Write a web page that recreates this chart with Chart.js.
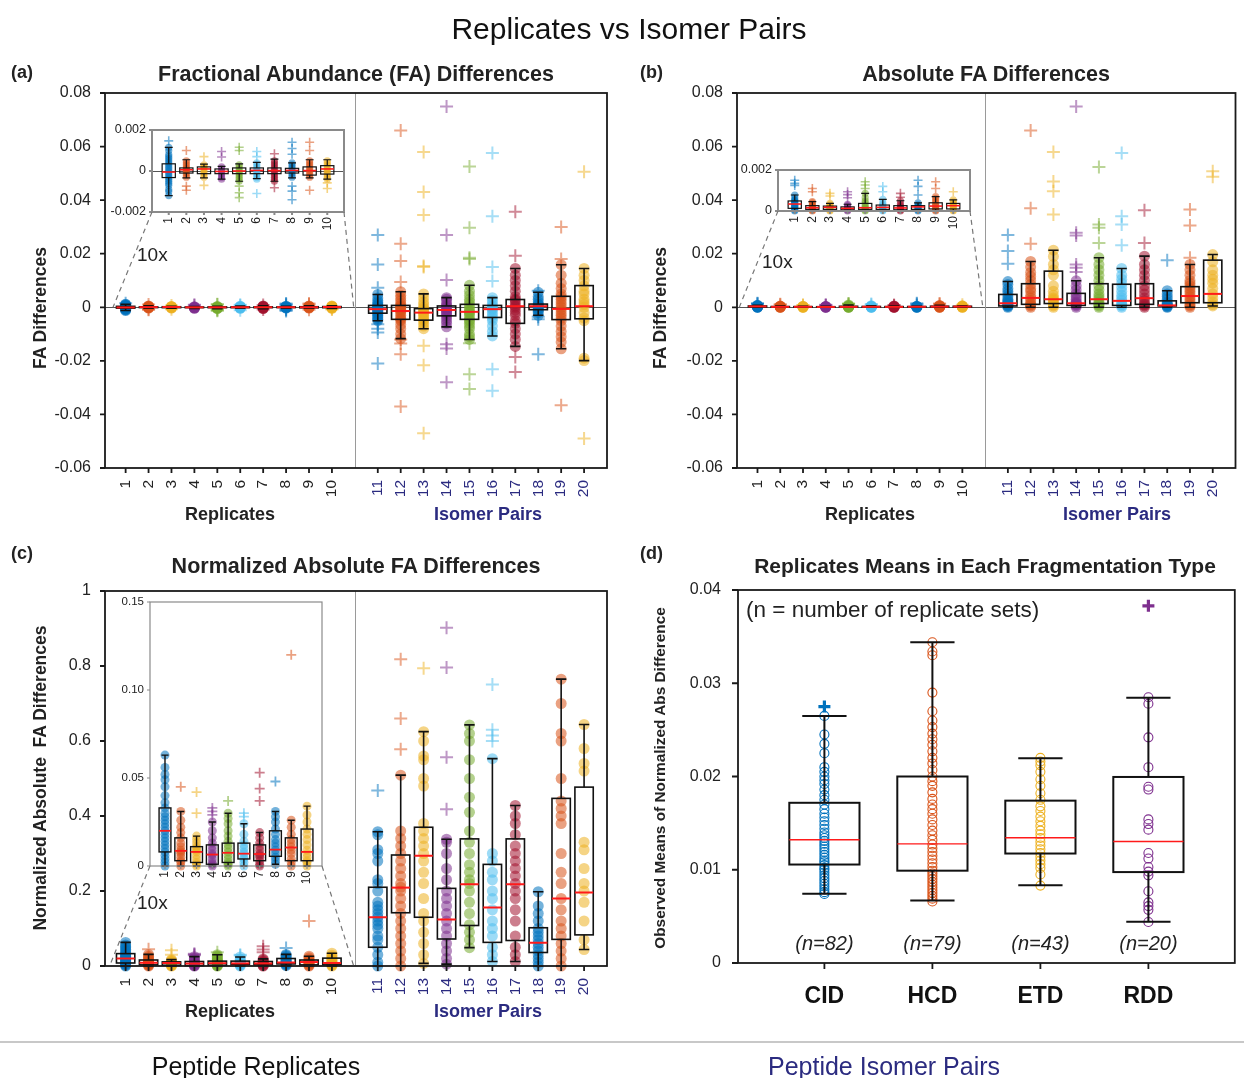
<!DOCTYPE html>
<html>
<head>
<meta charset="utf-8">
<script src="https://cdn.jsdelivr.net/npm/chart.js@4.4.1/dist/chart.umd.min.js"></script>
<style>
  html, body { margin: 0; padding: 0; background: #fff; }
  #root { position: relative; width: 1244px; height: 1078px; overflow: hidden; background: #fff;
          font-family: 'Liberation Sans', Arial, sans-serif; color: #222; }
  #root canvas { position: absolute; left: 0; top: 0; }
  .t { position: absolute; white-space: nowrap; }
</style>
</head>
<body>
<div id="root"></div>
<script>
// ---- data -------------------------------------------------------------
const REP_POS = [1, 2, 3, 4, 5, 6, 7, 8, 9, 10];
const ISO_POS = [12, 13, 14, 15, 16, 17, 18, 19, 20, 21];
const REP_LABELS = ['1', '2', '3', '4', '5', '6', '7', '8', '9', '10'];
const ISO_LABELS = ['11', '12', '13', '14', '15', '16', '17', '18', '19', '20'];
const PALETTE = ['#0072BD', '#D95319', '#EDB120', '#7E2F8E', '#77AC30', '#4DBEEE', '#A2142F'];

// (a) FA differences — replicates (also the inset)
const A_REP_Q1  = [-0.00032, -0.0001, -0.00013, -0.00013, -0.00013, -0.00013, -0.00013, -0.0001, -0.0002, -0.00015];
const A_REP_MED = [-0.00005, 0.00006, 0.0001, -0.00002, 0, 0.00003, 0.00002, 0.00003, 0.00002, 0.0001];
const A_REP_Q3  = [0.00035, 0.00015, 0.0002, 0.0001, 0.00015, 0.00015, 0.00015, 0.00013, 0.0002, 0.00026];
const A_REP_LO  = [-0.0012, -0.00034, -0.00034, -0.0004, -0.0005, -0.00037, -0.0005, -0.00034, -0.00034, -0.0004];
const A_REP_HI  = [0.00115, 0.00055, 0.00034, 0.00023, 0.00035, 0.00042, 0.00058, 0.0004, 0.00055, 0.00055];
const A_REP_PTS = [
  [-0.0012, -0.001, -0.0009, -0.0007, -0.0006, -0.0005, -0.0004, -0.0003, -0.0002, -0.0001, 0, 0.0001, 0.0002, 0.0003, 0.0004, 0.0005, 0.0006, 0.0007, 0.0008, 0.001, 0.00115],
  [-0.0003, -0.0002, -0.0001, 0, 0.0001, 0.0001, 0.0002, 0.0003, 0.0004, 0.0005],
  [-0.0003, -0.0002, -0.0001, 0, 0.0001, 0.0002, 0.0002, 0.0003],
  [-0.0004, -0.0003, -0.0002, -0.0001, 0, 0.0001, 0.0002],
  [-0.0005, -0.0004, -0.0003, -0.0002, -0.0001, 0, 0.0001, 0.0002, 0.0003],
  [-0.0004, -0.0003, -0.0002, -0.0001, 0, 0.0001, 0.0002, 0.0003, 0.0004],
  [-0.0005, -0.0004, -0.0003, -0.0002, -0.0001, 0, 0.0001, 0.0002, 0.0003, 0.0004, 0.0005],
  [-0.0003, -0.0002, -0.0001, 0, 0.0001, 0.0002, 0.0003, 0.0004],
  [-0.0003, -0.0002, -0.0001, 0, 0.0001, 0.0002, 0.0003, 0.0004, 0.0005],
  [-0.0004, -0.0003, -0.0002, -0.0001, 0, 0.0001, 0.0002, 0.0003, 0.0004, 0.0005]
];
const A_REP_OUT = [
  [0.00147], [0.001, -0.00074, -0.00094], [0.0007, -0.0007], [0.00095, 0.00068],
  [0.00116, 0.001, -0.00074, -0.00106, -0.0013], [0.00095, 0.0007, -0.0011], [0.00084, -0.00082],
  [0.0014, 0.0011, 0.00082, -0.00074, -0.00098, -0.0014], [0.0014, 0.001, -0.00094], [-0.00058, -0.00085]
];
// (a) FA differences — isomer pairs
const A_ISO_Q1  = [-0.0022, -0.0045, -0.0048, -0.0032, -0.0045, -0.0038, -0.006, -0.0009, -0.0046, -0.0043];
const A_ISO_MED = [-0.0007, -0.0014, -0.002, -0.001, -0.0017, -0.0007, 0.0004, 0.0004, -0.0006, 0.0004];
const A_ISO_Q3  = [0.0007, 0.0007, -0.0005, 0.0005, 0.0011, 0.0007, 0.0029, 0.0012, 0.0041, 0.0081];
const A_ISO_LO  = [-0.005, -0.0117, -0.008, -0.0073, -0.012, -0.0107, -0.0146, -0.003, -0.0155, -0.0199];
const A_ISO_HI  = [0.0048, 0.0058, 0.005, 0.0036, 0.0082, 0.0036, 0.0145, 0.0056, 0.0159, 0.0145];
const A_ISO_PTS = [
  [-0.005, -0.0045, -0.004, -0.0035, -0.003, -0.0025, -0.002, -0.0015, -0.0012, -0.001, -0.0007, -0.0004, -0.0002, 0, 0.0002, 0.0005, 0.0008, 0.0012, 0.0018, 0.0025, 0.0035, 0.0048],
  [-0.0117, -0.01, -0.008, -0.0065, -0.005, -0.0045, -0.004, -0.003, -0.002, -0.0015, -0.001, -0.0005, 0, 0.0003, 0.0007, 0.0015, 0.0025, 0.0035, 0.0045, 0.0058],
  [-0.008, -0.007, -0.006, -0.005, -0.0045, -0.004, -0.003, -0.0025, -0.002, -0.0015, -0.001, -0.0005, 0, 0.001, 0.002, 0.0035, 0.005],
  [-0.0073, -0.006, -0.005, -0.004, -0.0032, -0.0025, -0.002, -0.0015, -0.001, -0.0005, 0, 0.0005, 0.001, 0.002, 0.003, 0.0036],
  [-0.012, -0.011, -0.01, -0.008, -0.007, -0.006, -0.005, -0.0045, -0.0035, -0.0025, -0.002, -0.0015, -0.001, 0, 0.001, 0.002, 0.003, 0.0045, 0.006, 0.0082],
  [-0.0107, -0.009, -0.007, -0.005, -0.004, -0.003, -0.002, -0.001, -0.0005, 0, 0.0005, 0.0015, 0.0025, 0.0036],
  [-0.0146, -0.012, -0.01, -0.008, -0.006, -0.005, -0.003, -0.002, -0.001, 0, 0.0005, 0.0015, 0.0025, 0.003, 0.004, 0.006, 0.008, 0.01, 0.012, 0.0145],
  [-0.003, -0.002, -0.0015, -0.001, -0.0005, 0, 0.0003, 0.0006, 0.001, 0.0012, 0.002, 0.003, 0.004, 0.0056],
  [-0.0155, -0.013, -0.011, -0.009, -0.007, -0.005, -0.004, -0.003, -0.002, -0.001, 0, 0.001, 0.002, 0.003, 0.004, 0.005, 0.007, 0.009, 0.012, 0.0159],
  [-0.0199, -0.019, -0.005, -0.004, -0.002, 0, 0.001, 0.002, 0.003, 0.005, 0.006, 0.008, 0.01, 0.012, 0.0145]
];
const A_ISO_OUT = [
  [0.027, 0.016, 0.0073, -0.0063, -0.008, -0.0094, -0.021],
  [0.066, 0.0237, 0.0173, 0.0094, -0.012, -0.0135, -0.0175, -0.037],
  [0.058, 0.043, 0.0345, 0.0154, 0.015, -0.0144, -0.0216, -0.047],
  [0.075, 0.027, 0.0102, -0.0138, -0.0154, -0.028],
  [0.0526, 0.0297, 0.0185, 0.018, -0.0134, -0.025, -0.0305],
  [0.0576, 0.034, 0.015, 0.0098, -0.0231, -0.0312],
  [0.0357, 0.0192, -0.0186, -0.0242],
  [0.0062, -0.0035, -0.0045, -0.0175],
  [0.03, 0.018, -0.0366],
  [0.0506, -0.049]
];

// (b) absolute FA differences
const B_REP_Q1  = [0.00013, 0.00008, 0.00008, 0.00006, 0.00008, 0.00008, 0.00006, 0.00008, 0.0001, 0.0001];
const B_REP_MED = [0.00034, 0.00016, 0.00018, 0.00013, 0.00016, 0.00018, 0.00015, 0.0002, 0.00024, 0.00026];
const B_REP_Q3  = [0.00049, 0.00026, 0.00024, 0.0002, 0.00037, 0.00029, 0.00026, 0.00026, 0.0004, 0.00037];
const B_REP_LO  = [0, 0, 0, 0, 0, 0, 0, 0, 0, 0];
const B_REP_HI  = [0.00078, 0.00046, 0.00037, 0.00033, 0.00086, 0.00057, 0.0005, 0.0004, 0.0007, 0.00054];
const B_REP_PTS = [
  [0, 0.00005, 0.0001, 0.00013, 0.00018, 0.00023, 0.00028, 0.00032, 0.00035, 0.0004, 0.00045, 0.0005, 0.00055, 0.00065, 0.00078],
  [0, 0.00004, 0.00008, 0.00012, 0.00016, 0.0002, 0.00025, 0.0003, 0.0004, 0.00046],
  [0, 0.00005, 0.0001, 0.00015, 0.0002, 0.00024, 0.0003, 0.00037],
  [0, 0.00004, 0.00008, 0.00012, 0.00016, 0.0002, 0.00026, 0.00033],
  [0, 0.00005, 0.0001, 0.00015, 0.0002, 0.0003, 0.0004, 0.0005, 0.00065, 0.00086],
  [0, 0.00005, 0.0001, 0.00015, 0.0002, 0.00025, 0.0003, 0.0004, 0.00057],
  [0, 0.00004, 0.00008, 0.00012, 0.00016, 0.0002, 0.00026, 0.00035, 0.0005],
  [0, 0.00005, 0.0001, 0.00015, 0.0002, 0.00025, 0.0003, 0.0004],
  [0, 0.00005, 0.0001, 0.00015, 0.00025, 0.0003, 0.0004, 0.0005, 0.0006, 0.0007],
  [0, 0.00005, 0.0001, 0.0002, 0.00026, 0.0003, 0.00037, 0.00045, 0.00054]
];
const B_REP_OUT = [
  [0.0015, 0.00135, 0.00125], [0.0011, 0.00094], [0.00086, 0.00073], [0.00094, 0.0008, 0.00065],
  [0.00143, 0.00127, 0.0011], [0.0012, 0.00094], [0.00086, 0.00067], [0.0015, 0.0012, 0.00078],
  [0.00143, 0.0011], [0.00094]
];
const B_ISO_Q1  = [0.0005, 0.0011, 0.0014, 0.0007, 0.0014, 0.0007, 0.0011, 0.0005, 0.0017, 0.0017];
const B_ISO_MED = [0.0015, 0.0035, 0.003, 0.0015, 0.003, 0.0024, 0.0034, 0.0007, 0.0042, 0.005];
const B_ISO_Q3  = [0.0048, 0.0088, 0.0135, 0.0052, 0.0088, 0.0086, 0.0088, 0.0024, 0.0077, 0.0176];
const B_ISO_LO  = [0, 0, 0, 0, 0, 0, 0, 0, 0, 0.0005];
const B_ISO_HI  = [0.0096, 0.0171, 0.0213, 0.0099, 0.0185, 0.0145, 0.0191, 0.0062, 0.016, 0.0197];
const B_ISO_PTS = [
  [0, 0.0003, 0.0005, 0.0008, 0.001, 0.0013, 0.0016, 0.002, 0.0025, 0.003, 0.004, 0.005, 0.006, 0.007, 0.0085, 0.0096],
  [0, 0.0005, 0.001, 0.0015, 0.0025, 0.0035, 0.0045, 0.006, 0.007, 0.0085, 0.01, 0.0115, 0.013, 0.015, 0.0171],
  [0, 0.0005, 0.001, 0.0015, 0.002, 0.0025, 0.003, 0.0035, 0.0045, 0.006, 0.008, 0.012, 0.014, 0.016, 0.019, 0.0213],
  [0, 0.0005, 0.001, 0.0013, 0.0016, 0.002, 0.003, 0.004, 0.005, 0.0065, 0.008, 0.0099],
  [0, 0.0005, 0.001, 0.0015, 0.002, 0.003, 0.004, 0.005, 0.0065, 0.008, 0.01, 0.012, 0.014, 0.016, 0.0185],
  [0, 0.0005, 0.001, 0.0015, 0.0025, 0.0035, 0.0045, 0.006, 0.0075, 0.009, 0.0105, 0.012, 0.0145],
  [0, 0.0005, 0.001, 0.0015, 0.0025, 0.0035, 0.005, 0.0065, 0.008, 0.01, 0.012, 0.014, 0.016, 0.0191],
  [0, 0.0002, 0.0004, 0.0006, 0.0008, 0.001, 0.0015, 0.002, 0.003, 0.004, 0.005, 0.0062],
  [0, 0.0005, 0.001, 0.002, 0.003, 0.004, 0.005, 0.006, 0.007, 0.008, 0.009, 0.01, 0.012, 0.014, 0.016],
  [0.0005, 0.001, 0.002, 0.0035, 0.005, 0.007, 0.009, 0.0105, 0.012, 0.014, 0.017, 0.0197]
];
const B_ISO_OUT = [
  [0.027, 0.021, 0.0163], [0.066, 0.037, 0.0237], [0.058, 0.047, 0.0433, 0.0346],
  [0.075, 0.0278, 0.0268, 0.016, 0.0148, 0.0132], [0.0524, 0.0309, 0.0297, 0.024],
  [0.0576, 0.034, 0.0309, 0.0232], [0.0362, 0.024], [0.0176], [0.0365, 0.0305, 0.0185], [0.0508, 0.0487]
];

// (c) normalized absolute FA differences
const C_REP_Q1  = [0.008, 0.003, 0.002, 0.001, 0.002, 0.004, 0.003, 0.0055, 0.003, 0.003];
const C_REP_MED = [0.02, 0.0086, 0.008, 0.0065, 0.0075, 0.007, 0.0068, 0.0093, 0.0105, 0.008];
const C_REP_Q3  = [0.033, 0.016, 0.011, 0.012, 0.013, 0.013, 0.012, 0.02, 0.016, 0.021];
const C_REP_LO  = [0, 0, 0, 0, 0, 0, 0, 0.001, 0, 0];
const C_REP_HI  = [0.063, 0.031, 0.017, 0.025, 0.03, 0.024, 0.019, 0.031, 0.026, 0.034];
const C_REP_PTS = [
  [0, 0.002, 0.004, 0.006, 0.008, 0.01, 0.012, 0.014, 0.016, 0.018, 0.02, 0.022, 0.024, 0.026, 0.028, 0.03, 0.033, 0.036, 0.04, 0.045, 0.049, 0.052, 0.056, 0.063],
  [0, 0.002, 0.003, 0.005, 0.007, 0.008, 0.009, 0.011, 0.013, 0.016, 0.019, 0.022, 0.026, 0.031],
  [0, 0.001, 0.002, 0.004, 0.006, 0.008, 0.009, 0.01, 0.011, 0.013, 0.015, 0.017],
  [0, 0.001, 0.002, 0.004, 0.006, 0.007, 0.009, 0.011, 0.013, 0.016, 0.02, 0.025],
  [0, 0.001, 0.002, 0.004, 0.006, 0.008, 0.01, 0.012, 0.014, 0.017, 0.02, 0.024, 0.027, 0.03],
  [0, 0.002, 0.004, 0.005, 0.007, 0.008, 0.01, 0.012, 0.014, 0.018, 0.024],
  [0, 0.001, 0.003, 0.005, 0.006, 0.007, 0.009, 0.011, 0.013, 0.016, 0.019],
  [0.001, 0.003, 0.005, 0.007, 0.009, 0.011, 0.013, 0.015, 0.018, 0.021, 0.025, 0.028, 0.031],
  [0, 0.002, 0.004, 0.007, 0.009, 0.011, 0.013, 0.015, 0.018, 0.022, 0.026],
  [0, 0.002, 0.003, 0.005, 0.007, 0.009, 0.012, 0.015, 0.018, 0.021, 0.025, 0.029, 0.034]
];
const C_REP_OUT = [[], [0.045], [0.042, 0.03], [0.033, 0.031, 0.029], [0.037], [0.03, 0.028], [0.053, 0.044, 0.037], [0.048], [0.12], []];
const C_ISO_Q1  = [0.05, 0.142, 0.13, 0.072, 0.108, 0.063, 0.068, 0.036, 0.071, 0.083];
const C_ISO_MED = [0.13, 0.209, 0.294, 0.124, 0.218, 0.156, 0.218, 0.062, 0.18, 0.196];
const C_ISO_Q3  = [0.21, 0.296, 0.37, 0.207, 0.339, 0.271, 0.339, 0.102, 0.447, 0.477];
const C_ISO_LO  = [0, 0, 0.007, 0.005, 0.049, 0.012, 0.012, 0, 0, 0.044];
const C_ISO_HI  = [0.358, 0.509, 0.625, 0.338, 0.643, 0.553, 0.428, 0.198, 0.765, 0.644];
const C_ISO_PTS = [
  [0, 0.01, 0.03, 0.05, 0.07, 0.08, 0.1, 0.11, 0.12, 0.13, 0.14, 0.15, 0.16, 0.17, 0.2, 0.22, 0.23, 0.28, 0.3, 0.31, 0.35, 0.358],
  [0, 0.02, 0.04, 0.06, 0.08, 0.1, 0.12, 0.14, 0.16, 0.18, 0.2, 0.21, 0.22, 0.24, 0.26, 0.28, 0.3, 0.32, 0.34, 0.36, 0.509],
  [0.007, 0.03, 0.06, 0.09, 0.12, 0.14, 0.18, 0.22, 0.25, 0.28, 0.3, 0.32, 0.34, 0.36, 0.38, 0.48, 0.5, 0.55, 0.56, 0.6, 0.625],
  [0.005, 0.02, 0.04, 0.06, 0.08, 0.1, 0.12, 0.14, 0.16, 0.18, 0.2, 0.23, 0.26, 0.3, 0.33, 0.338],
  [0.049, 0.07, 0.09, 0.11, 0.14, 0.17, 0.2, 0.22, 0.23, 0.25, 0.27, 0.3, 0.33, 0.36, 0.41, 0.45, 0.5, 0.55, 0.6, 0.62, 0.643],
  [0.012, 0.03, 0.05, 0.08, 0.1, 0.12, 0.15, 0.18, 0.2, 0.23, 0.25, 0.28, 0.3, 0.553],
  [0.012, 0.03, 0.05, 0.08, 0.12, 0.15, 0.18, 0.2, 0.22, 0.24, 0.26, 0.28, 0.3, 0.32, 0.35, 0.38, 0.4, 0.428],
  [0, 0.01, 0.02, 0.03, 0.04, 0.05, 0.06, 0.07, 0.08, 0.09, 0.1, 0.12, 0.14, 0.16, 0.198],
  [0, 0.02, 0.04, 0.06, 0.08, 0.1, 0.12, 0.15, 0.18, 0.22, 0.25, 0.3, 0.38, 0.4, 0.42, 0.44, 0.5, 0.6, 0.62, 0.7, 0.765],
  [0.044, 0.07, 0.12, 0.17, 0.2, 0.22, 0.26, 0.31, 0.33, 0.52, 0.54, 0.58, 0.644]
];
const C_ISO_OUT = [[0.468], [0.818, 0.66, 0.578], [0.794], [0.902, 0.796, 0.557, 0.418], [], [0.751, 0.63, 0.615, 0.6], [], [], [], []];

// (d) replicate means per fragmentation type
const D_CATS = ['CID', 'HCD', 'ETD', 'RDD'];
const D_N = ['(n=82)', '(n=79)', '(n=43)', '(n=20)'];
const D_COLORS = ['#0072BD', '#D95319', '#EDB120', '#7E2F8E'];
const D_Q1  = [0.01056, 0.0099, 0.01174, 0.00975];
const D_MED = [0.01321, 0.01277, 0.01343, 0.01303];
const D_Q3  = [0.01718, 0.02, 0.01741, 0.01995];
const D_LO  = [0.00743, 0.0067, 0.00835, 0.00442];
const D_HI  = [0.0265, 0.0344, 0.02197, 0.02845];
const D_PTS = [
  [0.0074, 0.0076, 0.0079, 0.0082, 0.0085, 0.0088, 0.0091, 0.0094, 0.0097, 0.01, 0.0102, 0.0105, 0.0108, 0.011, 0.0113, 0.0116, 0.0119, 0.0122, 0.0125, 0.0128, 0.0131, 0.0134, 0.0137, 0.014, 0.0144, 0.0148, 0.0152, 0.0156, 0.016, 0.0165, 0.017, 0.0175, 0.018, 0.0186, 0.0192, 0.0196, 0.02, 0.0205, 0.021, 0.0225, 0.0235, 0.0245, 0.0265],
  [0.0066, 0.0069, 0.0072, 0.0075, 0.0078, 0.0081, 0.0084, 0.0087, 0.009, 0.0093, 0.0096, 0.0099, 0.0103, 0.0107, 0.0111, 0.0115, 0.0119, 0.0123, 0.0127, 0.0132, 0.0137, 0.0142, 0.0148, 0.0154, 0.016, 0.0165, 0.017, 0.0176, 0.0183, 0.019, 0.0195, 0.02, 0.0207, 0.0214, 0.022, 0.0227, 0.0234, 0.024, 0.0246, 0.0253, 0.026, 0.027, 0.029, 0.033, 0.0334, 0.0344],
  [0.0083, 0.0095, 0.0102, 0.0106, 0.011, 0.0114, 0.0118, 0.0122, 0.0126, 0.013, 0.0134, 0.0138, 0.0142, 0.0147, 0.0152, 0.0157, 0.0163, 0.0168, 0.0175, 0.0182, 0.019, 0.0197, 0.0205, 0.0212, 0.0216, 0.022],
  [0.0044, 0.0057, 0.0061, 0.0065, 0.0077, 0.0094, 0.0098, 0.0103, 0.0112, 0.0118, 0.0143, 0.0149, 0.0154, 0.0186, 0.0189, 0.021, 0.0242, 0.0278, 0.0285]
];
const D_OUT = [[0.0275], [], [], [0.0383]];

// ---- helpers ------------------------------------------------------------
const W = 1244, H = 1078;
const NAVY = '#2b2b80';
const FONT = "'Liberation Sans', Arial, sans-serif";
Chart.defaults.font.family = FONT;
Chart.defaults.color = '#222';
const root = document.getElementById('root');

const rgba = (hex, a) => {
  const n = parseInt(hex.slice(1), 16);
  return `rgba(${n >> 16},${(n >> 8) & 255},${n & 255},${a})`;
};

const groups = (pos, q1, med, q3, lo, hi) => pos.map((p, i) => ({ pos: p, q1: q1[i], med: med[i], q3: q3[i], lo: lo[i], hi: hi[i] }));

function pointSets(pos, pts, outs, colorOf, st) {
  const sets = [];
  pos.forEach((p, i) => {
    const c = colorOf(i);
    sets.push({
      data: pts[i].map(v => ({ x: p, y: v })), clip: false,
      pointStyle: 'circle', pointRadius: st.r,
      pointBackgroundColor: st.hollow ? 'rgba(0,0,0,0)' : rgba(c, st.a),
      pointBorderColor: st.hollow ? c : 'rgba(0,0,0,0)', pointBorderWidth: st.hollow ? 1.1 : 0
    });
    if (outs[i].length) sets.push({
      data: outs[i].map(v => ({ x: p, y: v })), clip: false,
      pointStyle: 'cross', pointRadius: st.pr,
      pointBorderColor: rgba(c, st.pa), pointBorderWidth: st.pw
    });
  });
  return sets;
}

function boxesPlugin(gs, st) {
  return {
    id: 'boxes',
    afterDatasetsDraw(chart) {
      const { ctx, scales: { x, y } } = chart;
      ctx.save();
      gs.forEach(g => {
        const cx = x.getPixelForValue(g.pos);
        const hw = x.getPixelForValue(g.pos + st.bw / 2) - cx;
        const hc = x.getPixelForValue(g.pos + st.cw / 2) - cx;
        const py = v => y.getPixelForValue(v);
        ctx.strokeStyle = '#111';
        ctx.lineWidth = st.lw;
        ctx.beginPath();
        ctx.moveTo(cx, py(g.hi)); ctx.lineTo(cx, py(g.q3));
        ctx.moveTo(cx, py(g.q1)); ctx.lineTo(cx, py(g.lo));
        ctx.moveTo(cx - hc, py(g.hi)); ctx.lineTo(cx + hc, py(g.hi));
        ctx.moveTo(cx - hc, py(g.lo)); ctx.lineTo(cx + hc, py(g.lo));
        ctx.stroke();
        ctx.strokeRect(cx - hw, py(g.q3), 2 * hw, py(g.q1) - py(g.q3));
        ctx.strokeStyle = '#ff1a1a';
        ctx.lineWidth = st.mw;
        ctx.beginPath();
        ctx.moveTo(cx - hw, py(g.med)); ctx.lineTo(cx + hw, py(g.med));
        ctx.stroke();
      });
      ctx.restore();
    }
  };
}

// frame, zero line, divider, outward tick marks, optional white fill and zoom connectors
function framePlugin(o) {
  return {
    id: 'frame',
    beforeDraw(chart) {
      if (!o.fill) return;
      const a = chart.chartArea, ctx = chart.ctx;
      ctx.save(); ctx.fillStyle = '#fff';
      ctx.fillRect(a.left, a.top, a.right - a.left, a.bottom - a.top);
      ctx.restore();
    },
    beforeDatasetsDraw(chart) {
      const { ctx, chartArea: a, scales: { x, y } } = chart;
      ctx.save();
      ctx.lineWidth = 1;
      if (o.zero) {
        ctx.strokeStyle = o.zero;
        const z = Math.round(y.getPixelForValue(0)) + 0.5;
        ctx.beginPath(); ctx.moveTo(a.left, z); ctx.lineTo(a.right, z); ctx.stroke();
      }
      if (o.divider != null) {
        ctx.strokeStyle = '#9a9a9a';
        const d = Math.round(x.getPixelForValue(o.divider)) + 0.5;
        ctx.beginPath(); ctx.moveTo(d, a.top); ctx.lineTo(d, a.bottom); ctx.stroke();
      }
      ctx.restore();
    },
    afterDraw(chart) {
      const { ctx, chartArea: a, scales: { x, y } } = chart;
      ctx.save();
      ctx.strokeStyle = o.color;
      ctx.lineWidth = o.lw;
      ctx.beginPath();
      x.ticks.forEach(t => {
        const px = x.getPixelForValue(t.value);
        ctx.moveTo(px, a.bottom); ctx.lineTo(px, a.bottom + o.tick);
      });
      y.ticks.forEach(t => {
        const py = y.getPixelForValue(t.value);
        ctx.moveTo(a.left - o.tick, py); ctx.lineTo(a.left, py);
      });
      ctx.stroke();
      ctx.strokeRect(a.left, a.top, a.right - a.left, a.bottom - a.top);
      if (o.link) {
        const m = o.link.chart.scales;
        const y0 = m.y.getPixelForValue(0);
        ctx.strokeStyle = '#777';
        ctx.lineWidth = 1.2;
        ctx.setLineDash([5, 4]);
        ctx.beginPath();
        ctx.moveTo(a.left, a.bottom); ctx.lineTo(m.x.getPixelForValue(o.link.from), y0);
        ctx.moveTo(a.right, a.bottom); ctx.lineTo(m.x.getPixelForValue(o.link.to), y0);
        ctx.stroke();
      }
      ctx.restore();
    }
  };
}

// the y scale box is yW wide and the x scale box xH high, so tick labels are not clipped
function makeChart(c) {
  const canvas = document.createElement('canvas');
  canvas.width = W; canvas.height = H;
  canvas.style.width = W + 'px'; canvas.style.height = H + 'px';
  root.appendChild(canvas);
  const yW = c.yW || 80, xH = c.xH || 60;
  return new Chart(canvas, {
    type: 'scatter',
    data: { datasets: c.datasets },
    options: {
      responsive: false, animation: false, devicePixelRatio: 1, events: [],
      layout: { padding: { left: c.rect.l - yW, top: c.rect.t, right: W - c.rect.r, bottom: H - c.rect.b - xH } },
      plugins: { legend: { display: false }, tooltip: { enabled: false } },
      scales: {
        x: {
          type: 'linear', min: c.x.min, max: c.x.max,
          afterFit: s => { s.height = xH; },
          afterBuildTicks: s => { s.ticks = c.x.pos.map(v => ({ value: v })); },
          grid: { display: false, drawTicks: false }, border: { display: false },
          ticks: {
            autoSkip: false, minRotation: c.x.rot, maxRotation: c.x.rot, padding: c.x.pad,
            font: c.x.font,
            color: ctx => c.x.colorOf(ctx.tick ? ctx.tick.value : 0),
            callback: v => c.x.labelOf(v)
          }
        },
        y: {
          min: c.y.min, max: c.y.max,
          afterFit: s => { s.width = yW; },
          grid: { display: false, drawTicks: false }, border: { display: false },
          ticks: { stepSize: c.y.step, padding: c.y.pad, font: c.y.font, color: '#222', callback: c.y.fmt }
        }
      }
    },
    plugins: c.plugins
  });
}

function text(str, x, y, css, align) {
  const d = document.createElement('div');
  d.className = 't';
  d.textContent = str;
  d.style.left = x + 'px';
  d.style.top = y + 'px';
  const tx = align === 'left' ? '0' : '-50%';
  d.style.transform = `translate(${tx},-50%)` + (align === 'rot' ? ' rotate(-90deg)' : '');
  d.style.cssText += ';' + css;
  root.appendChild(d);
}

// ---- panels (a)-(c): main plots plus zoomed insets ----------------------
const MAIN_POS = REP_POS.concat(ISO_POS);
const mainX = {
  min: 0.1, max: 22, pos: MAIN_POS, rot: 90, pad: 12, font: { size: 15.5 },
  colorOf: v => (v > 11 ? NAVY : '#222'),
  labelOf: v => (v > 11 ? ISO_LABELS[ISO_POS.indexOf(v)] : REP_LABELS[REP_POS.indexOf(v)])
};
const insetX = {
  min: 0.05, max: 10.95, pos: REP_POS, rot: 90, pad: 5, font: { size: 12 },
  colorOf: () => '#222', labelOf: v => REP_LABELS[REP_POS.indexOf(v)]
};
const colorOf = i => PALETTE[i % PALETTE.length];
const mainSt = { r: 5.5, a: 0.55, pr: 6.5, pa: 0.5, pw: 2 };
const mainBox = { bw: 0.8, cw: 0.45, lw: 1.6, mw: 2 };

function panel(p) {
  const main = makeChart({
    rect: p.mainRect, x: mainX, yW: 80, xH: 40,
    y: { min: p.y[0], max: p.y[1], step: p.y[2], pad: 14, font: { size: 16 }, fmt: p.fmt },
    datasets: pointSets(REP_POS, p.rep.pts, p.rep.out, colorOf, mainSt)
      .concat(pointSets(ISO_POS, p.iso.pts, p.iso.out, colorOf, mainSt)),
    plugins: [
      framePlugin({ color: '#1a1a1a', lw: 1.8, tick: 5, zero: p.zero ? '#555' : null, divider: 11 }),
      boxesPlugin(groups(REP_POS, ...p.rep.box).concat(groups(ISO_POS, ...p.iso.box)), mainBox)
    ]
  });
  makeChart({
    rect: p.insetRect, x: insetX, yW: 45, xH: 24,
    y: { min: p.iy[0], max: p.iy[1], step: p.iy[2], pad: 6, font: { size: p.iyFont }, fmt: p.ifmt },
    datasets: pointSets(REP_POS, p.rep.pts, p.rep.out, colorOf, p.insetSt),
    plugins: [
      framePlugin({ color: '#8a8a8a', lw: p.insetLw, tick: 3, fill: true, zero: p.izero ? '#555' : null,
                    link: { chart: main, from: p.link[0], to: p.link[1] } }),
      boxesPlugin(groups(REP_POS, ...p.rep.box), p.insetBox)
    ]
  });
}

const fmt2 = v => (Math.abs(v) < 1e-9 ? '0' : v.toFixed(2));
const fmt3 = v => (Math.abs(v) < 1e-9 ? '0' : v.toFixed(3));
const smallSt = { r: 3.6, a: 0.55, pr: 4.5, pa: 0.55, pw: 1.6 };
const smallBox = { bw: 0.75, cw: 0.45, lw: 1.2, mw: 1.6 };

panel({
  mainRect: { l: 105, r: 607, t: 93, b: 468 }, insetRect: { l: 152, r: 344, t: 130, b: 212 },
  y: [-0.06, 0.08, 0.02], fmt: fmt2, zero: true,
  iy: [-0.002, 0.002, 0.002], ifmt: fmt3, iyFont: 12.5, izero: true, insetLw: 2,
  insetSt: smallSt, insetBox: smallBox, link: [0.45, 10.95],
  rep: { pts: A_REP_PTS, out: A_REP_OUT, box: [A_REP_Q1, A_REP_MED, A_REP_Q3, A_REP_LO, A_REP_HI] },
  iso: { pts: A_ISO_PTS, out: A_ISO_OUT, box: [A_ISO_Q1, A_ISO_MED, A_ISO_Q3, A_ISO_LO, A_ISO_HI] }
});
panel({
  mainRect: { l: 737, r: 1236, t: 93, b: 468 }, insetRect: { l: 778, r: 970, t: 170, b: 211 },
  y: [-0.06, 0.08, 0.02], fmt: fmt2, zero: true,
  iy: [0, 0.002, 0.002], ifmt: fmt3, iyFont: 12.5, izero: false, insetLw: 2,
  insetSt: smallSt, insetBox: smallBox, link: [0.2, 10.9],
  rep: { pts: B_REP_PTS, out: B_REP_OUT, box: [B_REP_Q1, B_REP_MED, B_REP_Q3, B_REP_LO, B_REP_HI] },
  iso: { pts: B_ISO_PTS, out: B_ISO_OUT, box: [B_ISO_Q1, B_ISO_MED, B_ISO_Q3, B_ISO_LO, B_ISO_HI] }
});
panel({
  mainRect: { l: 105, r: 607, t: 591, b: 966 }, insetRect: { l: 150, r: 322, t: 602, b: 866 },
  y: [0, 1, 0.2], fmt: v => (Math.abs(v) < 1e-9 ? '0' : Math.abs(v - 1) < 1e-9 ? '1' : v.toFixed(1)), zero: false,
  iy: [0, 0.15, 0.05], ifmt: fmt2, iyFont: 11.5, izero: false, insetLw: 1.2,
  insetSt: { r: 4.5, a: 0.55, pr: 5, pa: 0.55, pw: 1.8 }, insetBox: { bw: 0.75, cw: 0.45, lw: 1.4, mw: 1.8 },
  link: [0.3, 10.95],
  rep: { pts: C_REP_PTS, out: C_REP_OUT, box: [C_REP_Q1, C_REP_MED, C_REP_Q3, C_REP_LO, C_REP_HI] },
  iso: { pts: C_ISO_PTS, out: C_ISO_OUT, box: [C_ISO_Q1, C_ISO_MED, C_ISO_Q3, C_ISO_LO, C_ISO_HI] }
});

// ---- panel (d) ------------------------------------------------------------
const D_POS = [1, 2, 3, 4];
const nLabels = {
  id: 'nLabels',
  afterDraw(chart) {
    const { ctx, scales: { x }, chartArea: a } = chart;
    ctx.save();
    ctx.font = `italic 20px ${FONT}`;
    ctx.fillStyle = '#222';
    ctx.textAlign = 'center';
    ctx.textBaseline = 'middle';
    D_POS.forEach((p, i) => ctx.fillText(D_N[i], x.getPixelForValue(p), a.bottom - 19));
    ctx.restore();
  }
};
makeChart({
  rect: { l: 738, r: 1237, t: 590, b: 963 }, yW: 60, xH: 60,
  x: { min: 0.2, max: 4.8, pos: D_POS, rot: 0, pad: 20, font: { size: 23, weight: 'bold' },
       colorOf: () => '#111', labelOf: v => D_CATS[D_POS.indexOf(v)] },
  y: { min: 0, max: 0.04, step: 0.01, pad: 17, font: { size: 16 }, fmt: fmt2 },
  datasets: pointSets(D_POS, D_PTS, D_OUT, i => D_COLORS[i], { r: 4.5, hollow: true, pr: 6, pa: 1, pw: 3.2 }),
  plugins: [
    framePlugin({ color: '#1a1a1a', lw: 1.8, tick: 6 }),
    boxesPlugin(groups(D_POS, D_Q1, D_MED, D_Q3, D_LO, D_HI), { bw: 0.65, cw: 0.41, lw: 2, mw: 1.4 }),
    nLabels
  ]
});

// ---- text ---------------------------------------------------------------------
text('Replicates vs Isomer Pairs', 629, 29, 'font-size:30px;color:#111');
const B = 'font-weight:bold;';
text('(a)', 11, 72, B + 'font-size:18px', 'left');
text('(b)', 640, 72, B + 'font-size:18px', 'left');
text('(c)', 11, 553, B + 'font-size:18px', 'left');
text('(d)', 640, 553, B + 'font-size:18px', 'left');
text('Fractional Abundance (FA) Differences', 356, 74, B + 'font-size:21.5px');
text('Absolute FA Differences', 986, 74, B + 'font-size:21.5px');
text('Normalized Absolute FA Differences', 356, 566, B + 'font-size:21.5px');
text('Replicates Means in Each Fragmentation Type', 985, 566, B + 'font-size:21px');
text('FA Differences', 40, 308, B + 'font-size:17.5px', 'rot');
text('FA Differences', 660, 308, B + 'font-size:17.5px', 'rot');
text('Normalized Absolute  FA Differences', 40, 778, B + 'font-size:17.5px;white-space:pre', 'rot');
text('Observed Means of Normalized Abs Difference', 660, 778, B + 'font-size:15.4px', 'rot');
text('Replicates', 230, 514, B + 'font-size:18px');
text('Isomer Pairs', 488, 514, B + 'font-size:18px;color:' + NAVY);
text('Replicates', 870, 514, B + 'font-size:18px');
text('Isomer Pairs', 1117, 514, B + 'font-size:18px;color:' + NAVY);
text('Replicates', 230, 1011, B + 'font-size:18px');
text('Isomer Pairs', 488, 1011, B + 'font-size:18px;color:' + NAVY);
text('10x', 137, 255, 'font-size:19px', 'left');
text('10x', 762, 262, 'font-size:19px', 'left');
text('10x', 137, 903, 'font-size:19px', 'left');
text('(n = number of replicate sets)', 746, 610, 'font-size:22.5px', 'left');
text('Peptide Replicates', 256, 1066, 'font-size:25px;color:#111');
text('Peptide Isomer Pairs', 884, 1066, 'font-size:25px;color:' + NAVY);
const rule = document.createElement('div');
rule.style.cssText = 'position:absolute;left:0;top:1041px;width:1244px;height:2px;background:#c8c8c8';
root.appendChild(rule);
</script>
</body>
</html>
